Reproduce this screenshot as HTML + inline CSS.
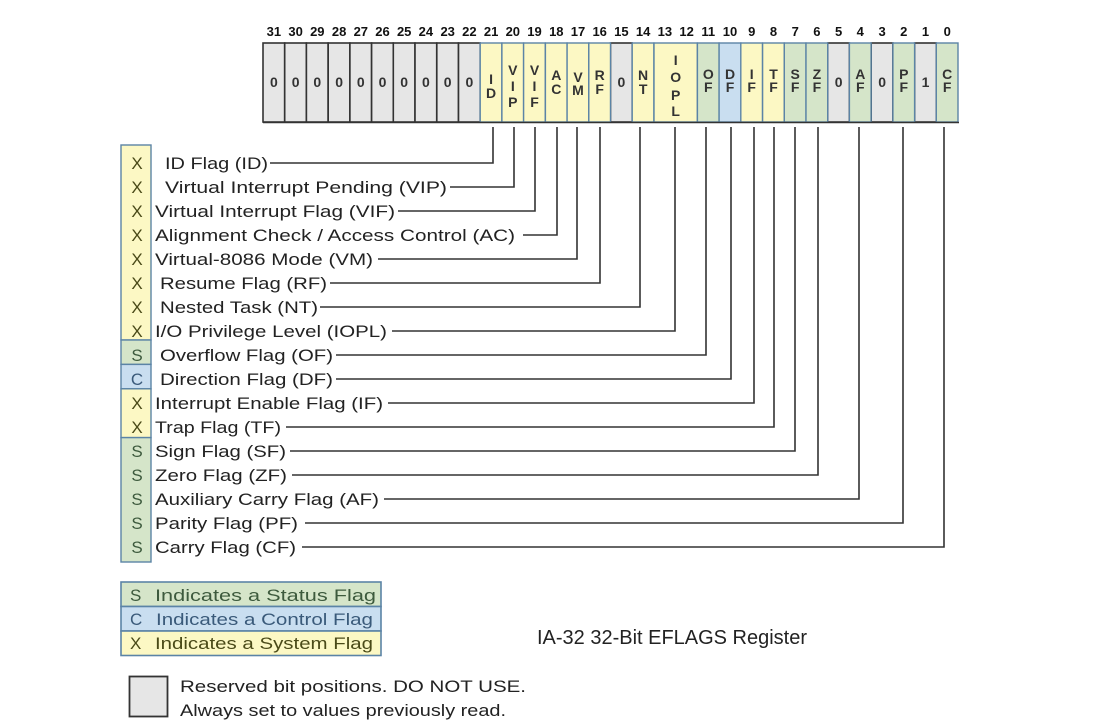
<!DOCTYPE html>
<html><head><meta charset="utf-8"><style>
html,body{margin:0;padding:0;background:#fff;width:1118px;height:725px;overflow:hidden}
svg{display:block}
text{font-family:"Liberation Sans",Arial,sans-serif}
</style></head><body>
<svg width="1118" height="725" viewBox="0 0 1118 725" xmlns="http://www.w3.org/2000/svg">
<g font-size="13" font-weight="bold" fill="#111" text-anchor="middle">
<text x="273.9" y="36">31</text><text x="295.6" y="36">30</text><text x="317.3" y="36">29</text><text x="339.1" y="36">28</text><text x="360.8" y="36">27</text><text x="382.5" y="36">26</text><text x="404.2" y="36">25</text><text x="425.9" y="36">24</text><text x="447.7" y="36">23</text><text x="469.4" y="36">22</text><text x="491.1" y="36">21</text><text x="512.8" y="36">20</text><text x="534.5" y="36">19</text><text x="556.3" y="36">18</text><text x="578.0" y="36">17</text><text x="599.7" y="36">16</text><text x="621.4" y="36">15</text><text x="643.1" y="36">14</text><text x="664.9" y="36">13</text><text x="686.6" y="36">12</text><text x="708.3" y="36">11</text><text x="730.0" y="36">10</text><text x="751.7" y="36">9</text><text x="773.5" y="36">8</text><text x="795.2" y="36">7</text><text x="816.9" y="36">6</text><text x="838.6" y="36">5</text><text x="860.3" y="36">4</text><text x="882.1" y="36">3</text><text x="903.8" y="36">2</text><text x="925.5" y="36">1</text><text x="947.2" y="36">0</text>
</g>
<g fill="#e6e6e6" stroke="#333" stroke-width="1.6">
<rect x="263" y="43" width="21.7" height="79"/><rect x="284.7" y="43" width="21.7" height="79"/><rect x="306.4" y="43" width="21.7" height="79"/><rect x="328.2" y="43" width="21.7" height="79"/><rect x="349.9" y="43" width="21.7" height="79"/><rect x="371.6" y="43" width="21.7" height="79"/><rect x="393.3" y="43" width="21.7" height="79"/><rect x="415" y="43" width="21.7" height="79"/><rect x="436.8" y="43" width="21.7" height="79"/><rect x="458.5" y="43" width="21.7" height="79"/>
<rect x="610.5" y="43" width="21.7" height="79"/><rect x="827.7" y="43" width="21.7" height="79"/><rect x="871.2" y="43" width="21.7" height="79"/><rect x="914.6" y="43" width="21.7" height="79"/>
</g>
<g stroke="#5b84a6" stroke-width="1.4">
<g fill="#fcf8c4">
<rect x="480.2" y="43" width="21.7" height="79"/><rect x="501.9" y="43" width="21.7" height="79"/><rect x="523.6" y="43" width="21.7" height="79"/><rect x="545.4" y="43" width="21.7" height="79"/><rect x="567.1" y="43" width="21.7" height="79"/><rect x="588.8" y="43" width="21.7" height="79"/>
<rect x="632.2" y="43" width="21.7" height="79"/><rect x="654" y="43" width="43.4" height="79"/>
<rect x="740.8" y="43" width="21.7" height="79"/><rect x="762.6" y="43" width="21.7" height="79"/>
</g>
<g fill="#d5e5c9">
<rect x="697.4" y="43" width="21.7" height="79"/><rect x="784.3" y="43" width="21.7" height="79"/><rect x="806" y="43" width="21.7" height="79"/><rect x="849.4" y="43" width="21.7" height="79"/><rect x="892.9" y="43" width="21.7" height="79"/><rect x="936.3" y="43" width="21.7" height="79"/>
</g>
<rect x="719.1" y="43" width="21.7" height="79" fill="#c9def0"/>
</g>
<line x1="263" y1="122.5" x2="959" y2="122.5" stroke="#333" stroke-width="1.5"/>
<g font-size="14" font-weight="bold" fill="#333" text-anchor="middle">
<text x="273.9" y="87">0</text><text x="295.6" y="87">0</text><text x="317.3" y="87">0</text><text x="339.1" y="87">0</text><text x="360.8" y="87">0</text><text x="382.5" y="87">0</text><text x="404.2" y="87">0</text><text x="425.9" y="87">0</text><text x="447.7" y="87">0</text><text x="469.4" y="87">0</text>
<text x="621.4" y="87">0</text><text x="838.6" y="87">0</text><text x="882.1" y="87">0</text><text x="925.5" y="87">1</text>
</g>
<g font-size="14" font-weight="600" fill="#333" text-anchor="middle">
<text x="491.1" y="84">I</text><text x="491.1" y="98">D</text>
<text x="512.8" y="75">V</text><text x="512.8" y="91">I</text><text x="512.8" y="107">P</text>
<text x="534.5" y="75">V</text><text x="534.5" y="91">I</text><text x="534.5" y="107">F</text>
<text x="556.3" y="80">A</text><text x="556.3" y="94">C</text>
<text x="578" y="82">V</text><text x="578" y="95">M</text>
<text x="599.7" y="80">R</text><text x="599.7" y="94">F</text>
<text x="643.1" y="80">N</text><text x="643.1" y="94">T</text>
<text x="675.7" y="65">I</text><text x="675.7" y="82">O</text><text x="675.7" y="100">P</text><text x="675.7" y="116">L</text>
<text x="708.3" y="79">O</text><text x="708.3" y="92">F</text>
<text x="730" y="79">D</text><text x="730" y="92">F</text>
<text x="751.7" y="79">I</text><text x="751.7" y="92">F</text>
<text x="773.5" y="79">T</text><text x="773.5" y="92">F</text>
<text x="795.2" y="79">S</text><text x="795.2" y="92">F</text>
<text x="816.9" y="79">Z</text><text x="816.9" y="92">F</text>
<text x="860.3" y="79">A</text><text x="860.3" y="92">F</text>
<text x="903.8" y="79">P</text><text x="903.8" y="92">F</text>
<text x="947.2" y="79">C</text><text x="947.2" y="92">F</text>
</g>
<g fill="none" stroke="#333" stroke-width="1.6">
<polyline points="270,163 493,163 493,127"/>
<polyline points="450,187 514,187 514,127"/>
<polyline points="398,211 535,211 535,127"/>
<polyline points="523,235 557,235 557,127"/>
<polyline points="378,259 577,259 577,127"/>
<polyline points="330,283 600,283 600,127"/>
<polyline points="320,307 640,307 640,127"/>
<polyline points="392,331 675,331 675,127"/>
<polyline points="336,355 706,355 706,127"/>
<polyline points="336,379 731,379 731,127"/>
<polyline points="388,403 754,403 754,127"/>
<polyline points="286,427 774,427 774,127"/>
<polyline points="290,451 795,451 795,127"/>
<polyline points="292,475 818,475 818,127"/>
<polyline points="384,499 859,499 859,127"/>
<polyline points="305,523 903,523 903,127"/>
<polyline points="302,547 944,547 944,127"/>
</g>
<g stroke="#5b84a6" stroke-width="1.4">
<rect x="121" y="145" width="30" height="195" fill="#fcf8c4"/>
<rect x="121" y="340" width="30" height="24.4" fill="#d5e5c9"/>
<rect x="121" y="364.4" width="30" height="24.4" fill="#c9def0"/>
<rect x="121" y="388.8" width="30" height="48.8" fill="#fcf8c4"/>
<rect x="121" y="437.6" width="30" height="124.4" fill="#d5e5c9"/>
</g>
<g font-size="17" text-anchor="middle">
<g fill="#4a4a18">
<text x="137" y="169">X</text><text x="137" y="193">X</text><text x="137" y="217">X</text><text x="137" y="241">X</text><text x="137" y="265">X</text><text x="137" y="289">X</text><text x="137" y="313">X</text><text x="137" y="337">X</text>
<text x="137" y="409">X</text><text x="137" y="433">X</text></g>
<g fill="#3d5a3d"><text x="137" y="361">S</text><text x="137" y="457">S</text><text x="137" y="481">S</text><text x="137" y="505">S</text><text x="137" y="529">S</text><text x="137" y="553">S</text></g>
<text x="137" y="385" fill="#3a5a7a">C</text>
</g>
<g font-size="17" fill="#222">
<text x="165" y="169" textLength="103" lengthAdjust="spacingAndGlyphs">ID Flag (ID)</text>
<text x="165" y="193" textLength="282" lengthAdjust="spacingAndGlyphs">Virtual Interrupt Pending (VIP)</text>
<text x="155" y="217" textLength="240" lengthAdjust="spacingAndGlyphs">Virtual Interrupt Flag (VIF)</text>
<text x="155" y="241" textLength="360" lengthAdjust="spacingAndGlyphs">Alignment Check / Access Control (AC)</text>
<text x="155" y="265" textLength="218" lengthAdjust="spacingAndGlyphs">Virtual-8086 Mode (VM)</text>
<text x="160" y="289" textLength="167" lengthAdjust="spacingAndGlyphs">Resume Flag (RF)</text>
<text x="160" y="313" textLength="158" lengthAdjust="spacingAndGlyphs">Nested Task (NT)</text>
<text x="155" y="337" textLength="232" lengthAdjust="spacingAndGlyphs">I/O Privilege Level (IOPL)</text>
<text x="160" y="361" textLength="173" lengthAdjust="spacingAndGlyphs">Overflow Flag (OF)</text>
<text x="160" y="385" textLength="173" lengthAdjust="spacingAndGlyphs">Direction Flag (DF)</text>
<text x="155" y="409" textLength="228" lengthAdjust="spacingAndGlyphs">Interrupt Enable Flag (IF)</text>
<text x="155" y="433" textLength="126" lengthAdjust="spacingAndGlyphs">Trap Flag (TF)</text>
<text x="155" y="457" textLength="131" lengthAdjust="spacingAndGlyphs">Sign Flag (SF)</text>
<text x="155" y="481" textLength="132" lengthAdjust="spacingAndGlyphs">Zero Flag (ZF)</text>
<text x="155" y="505" textLength="224" lengthAdjust="spacingAndGlyphs">Auxiliary Carry Flag (AF)</text>
<text x="155" y="529" textLength="143" lengthAdjust="spacingAndGlyphs">Parity Flag (PF)</text>
<text x="155" y="553" textLength="141" lengthAdjust="spacingAndGlyphs">Carry Flag (CF)</text>
</g>
<g stroke="#5b84a6" stroke-width="1.6">
<rect x="121" y="582" width="260" height="24.5" fill="#d5e5c9"/>
<rect x="121" y="606.5" width="260" height="24.5" fill="#c9def0"/>
<rect x="121" y="631" width="260" height="24.5" fill="#fcf8c4"/>
</g>
<g font-size="17">
<text x="130" y="601" fill="#3d5a3d">S</text><text x="155" y="601" fill="#3d5a3d" textLength="221" lengthAdjust="spacingAndGlyphs">Indicates a Status Flag</text>
<text x="130" y="625" fill="#3a5a7a">C</text><text x="156" y="625" fill="#3a5a7a" textLength="217" lengthAdjust="spacingAndGlyphs">Indicates a Control Flag</text>
<text x="130" y="649" fill="#4a4a18">X</text><text x="155" y="649" fill="#4a4a18" textLength="218" lengthAdjust="spacingAndGlyphs">Indicates a System Flag</text>
</g>
<rect x="129.5" y="676.5" width="38" height="40" fill="#e6e6e6" stroke="#333" stroke-width="1.8"/>
<g font-size="17" fill="#222">
<text x="180" y="692" textLength="346" lengthAdjust="spacingAndGlyphs">Reserved bit positions. DO NOT USE.</text>
<text x="180" y="716" textLength="326" lengthAdjust="spacingAndGlyphs">Always set to values previously read.</text>
</g>
<text x="537" y="644" font-size="20" fill="#222" textLength="270" lengthAdjust="spacingAndGlyphs">IA-32 32-Bit EFLAGS Register</text>
</svg>
</body></html>
